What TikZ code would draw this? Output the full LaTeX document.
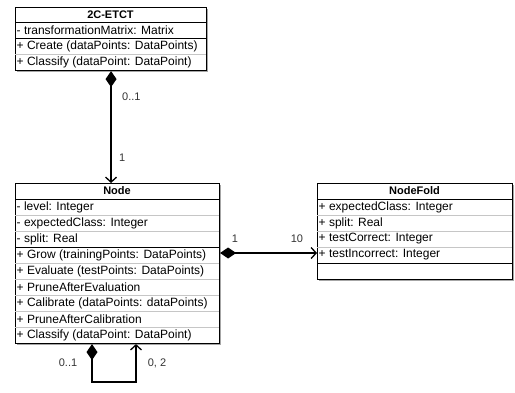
\documentclass[tikz,border=0pt]{standalone}
\usepackage{fontspec}
\setmainfont{Liberation Sans}
\usetikzlibrary{arrows.meta,shadows}
\begin{document}
\begin{tikzpicture}[x=1pt,y=-1pt,
  classbox/.style={draw=black,line width=1.1pt,fill=white,inner sep=0pt,anchor=north west,
    drop shadow={shadow xshift=1.2pt,shadow yshift=-1.2pt,fill=gray!70,opacity=1}},
  rowtext/.style={anchor=west,inner sep=0pt,font=\fontsize{12}{14}\selectfont},
  titletext/.style={inner sep=0pt,font=\fontsize{11}{13}\selectfont\bfseries},
  sepblack/.style={draw=black,line width=0.8pt},
  sepgray/.style={draw=gray!45,line width=0.6pt},
  assoc/.style={draw=black,line width=1.3pt,
    arrows={Diamond[length=16pt,width=11pt]-Straight Barb[length=5pt,width=11pt,line width=1.3pt]}},
  mult/.style={inner sep=0pt,text=black!80,font=\fontsize{11}{13}\selectfont}]
\useasboundingbox (0,0) rectangle (515,392);

% ---------- 2C-ETCT ----------
\node[classbox,minimum width=191pt,minimum height=63pt] (etct) at (15,7) {};
\draw[sepblack] (15,22) -- (206,22);
\draw[sepblack] (15,38) -- (206,38);
\draw[sepgray] (15,54) -- (206,54);
\node[titletext] (etctT) at (110.5,14.5) {2C-ETCT};
\node[rowtext] (etctA) at (16.5,30) {- transformationMatrix: Matrix};
\node[rowtext] (etctM1) at (16.5,46) {+ Create (dataPoints: DataPoints)};
\node[rowtext] (etctM2) at (16.5,62) {+ Classify (dataPoint: DataPoint)};

% ---------- Node ----------
\node[classbox,minimum width=204pt,minimum height=160pt] (node) at (15,183) {};
\draw[sepblack] (15,199) -- (219,199);
\draw[sepgray] (15,215) -- (219,215);
\draw[sepgray] (15,231) -- (219,231);
\draw[sepblack] (15,247) -- (219,247);
\foreach \yy in {263,279,295,311,327} {\draw[sepgray] (15,\yy) -- (219,\yy);}
\node[titletext] (nodeT) at (117,191) {Node};
\node[rowtext] (nA1) at (16.5,207) {- level: Integer};
\node[rowtext] (nA2) at (16.5,223) {- expectedClass: Integer};
\node[rowtext] (nA3) at (16.5,239) {- split: Real};
\node[rowtext] (nM1) at (16.5,255) {+ Grow (trainingPoints: DataPoints)};
\node[rowtext] (nM2) at (16.5,271) {+ Evaluate (testPoints: DataPoints)};
\node[rowtext] (nM3) at (16.5,287) {+ PruneAfterEvaluation};
\node[rowtext] (nM4) at (16.5,303) {+ Calibrate (dataPoints: dataPoints)};
\node[rowtext] (nM5) at (16.5,319) {+ PruneAfterCalibration};
\node[rowtext] (nM6) at (16.5,335) {+ Classify (dataPoint: DataPoint)};

% ---------- NodeFold ----------
\node[classbox,minimum width=195pt,minimum height=96pt] (fold) at (317,183) {};
\draw[sepblack] (317,199) -- (512,199);
\foreach \yy in {215,231,247} {\draw[sepgray] (317,\yy) -- (512,\yy);}
\draw[sepblack] (317,263) -- (512,263);
\node[titletext] (foldT) at (414.5,191) {NodeFold};
\node[rowtext] (fA1) at (318.5,207) {+ expectedClass: Integer};
\node[rowtext] (fA2) at (318.5,223) {+ split: Real};
\node[rowtext] (fA3) at (318.5,239) {+ testCorrect: Integer};
\node[rowtext] (fA4) at (318.5,255) {+ testIncorrect: Integer};

% ---------- connectors ----------
\draw[assoc] (etct.south) -- (etct.south |- node.north);
\node[mult,anchor=west] (m1) at (122,97) {0..1};
\node[mult,anchor=west] (m2) at (119,158) {1};

\coordinate (hy) at (0,253);
\draw[assoc] (node.east |- hy) -- (fold.west |- hy);
\node[mult] (m3) at (235,239) {1};
\node[mult] (m4) at (297,239) {10};

\coordinate (lx1) at (92,0);
\coordinate (lx2) at (136,0);
\coordinate (lb) at (0,382);
\draw[assoc] (node.south -| lx1) -- (lx1 |- lb) -- (lx2 |- lb) -- (node.south -| lx2);
\node[mult] (m5) at (68,363) {0..1};
\node[mult] (m6) at (157,363) {0, 2};
\end{tikzpicture}
\end{document}
